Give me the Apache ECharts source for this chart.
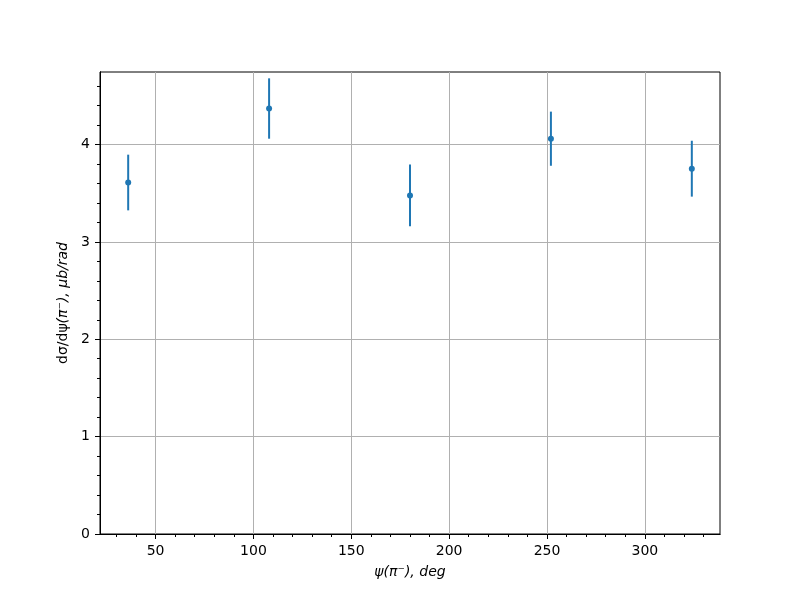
<!DOCTYPE html>
<html>
<head>
<meta charset="utf-8">
<script src="https://cdn.jsdelivr.net/npm/echarts@6/dist/echarts.min.js"></script>
<style>html,body{margin:0;padding:0;background:#fff}#c{width:800px;height:600px}</style>
</head>
<body>
<div id="c"></div>
<script>
var psiDeg = [36, 108, 180, 252, 324];
var dsigma = [3.61, 4.37, 3.477, 4.06, 3.752];
var dsigmaErr = [0.286, 0.31, 0.317, 0.278, 0.287];
var xMajorTicks = [50, 100, 150, 200, 250, 300];
var xMinorTicks = [30, 40, 60, 70, 80, 90, 110, 120, 130, 140, 160, 170, 180, 190, 210, 220, 230, 240, 260, 270, 280, 290, 310, 320, 330];
var yMajorTicks = [0, 1, 2, 3, 4];
var yMinorTicks = [0.2, 0.4, 0.6, 0.8, 1.2, 1.4, 1.6, 1.8, 2.2, 2.4, 2.6, 2.8, 3.2, 3.4, 3.6, 3.8, 4.2, 4.4, 4.6];
var xRange = [21.6, 338.4];
var yRange = [0, 4.745];

var points = psiDeg.map(function (x, i) { return [x, dsigma[i]]; });
var bars = psiDeg.map(function (x, i) { return [x, dsigma[i] - dsigmaErr[i], dsigma[i] + dsigmaErr[i]]; });

var font = 'DejaVu Sans';
var color = '#1f77b4';

function xAxisBase(extra) {
  var a = {
    type: 'value', min: xRange[0], max: xRange[1], position: 'bottom',
    axisLine: { show: true, onZero: false, lineStyle: { color: '#000', width: 1 } },
    splitLine: { show: false },
    axisLabel: { show: false },
    axisTick: { show: false }
  };
  for (var k in extra) a[k] = extra[k];
  return a;
}
function yAxisBase(extra) {
  var a = {
    type: 'value', min: yRange[0], max: yRange[1], position: 'left',
    axisLine: { show: true, onZero: false, lineStyle: { color: '#000', width: 1 } },
    splitLine: { show: false },
    axisLabel: { show: false },
    axisTick: { show: false }
  };
  for (var k in extra) a[k] = extra[k];
  return a;
}

var chart = echarts.init(document.getElementById('c'), null, { renderer: 'canvas' });
chart.setOption({
  backgroundColor: '#fff',
  animation: false,
  grid: { left: 100, right: 80, top: 72, bottom: 66, show: true, borderColor: '#000', borderWidth: 1, backgroundColor: 'transparent' },
  xAxis: [
    xAxisBase({
      name: 'ψ(π⁻), deg', nameLocation: 'middle', nameGap: 31,
      nameTextStyle: { fontFamily: font, fontSize: 14, fontStyle: 'italic', color: '#000' },
      axisTick: { show: true, inside: false, length: 5, customValues: xMajorTicks, lineStyle: { color: '#000', width: 1 } },
      axisLabel: { show: true, margin: 10, customValues: xMajorTicks, fontFamily: font, fontSize: 14, color: '#000' },
      splitLine: { show: true, lineStyle: { color: '#b0b0b0', width: 1 } }
    }),
    xAxisBase({
      axisTick: { show: true, inside: false, length: 3, customValues: xMinorTicks, lineStyle: { color: '#000', width: 1 } }
    })
  ],
  yAxis: [
    yAxisBase({
      name: '{u|dσ/dψ}{i|(π⁻), μb/rad}', nameLocation: 'middle', nameGap: 27, nameRotate: 90,
      nameTextStyle: { fontFamily: font, fontSize: 14, color: '#000',
        rich: { u: { fontFamily: font, fontSize: 14, color: '#000' }, i: { fontFamily: font, fontSize: 14, fontStyle: 'italic', color: '#000' } } },
      axisTick: { show: true, inside: false, length: 5, customValues: yMajorTicks, lineStyle: { color: '#000', width: 1 } },
      axisLabel: { show: true, margin: 10, customValues: yMajorTicks, fontFamily: font, fontSize: 14, color: '#000' },
      splitLine: { show: true, lineStyle: { color: '#b0b0b0', width: 1 } }
    }),
    yAxisBase({
      axisTick: { show: true, inside: false, length: 3, customValues: yMinorTicks, lineStyle: { color: '#000', width: 1 } }
    })
  ],
  series: [
    {
      type: 'custom', xAxisIndex: 0, yAxisIndex: 0, data: bars, z: 3,
      renderItem: function (params, api) {
        var lo = api.coord([api.value(0), api.value(1)]);
        var hi = api.coord([api.value(0), api.value(2)]);
        return {
          type: 'line',
          shape: { x1: lo[0], y1: lo[1], x2: hi[0], y2: hi[1] },
          style: { stroke: color, lineWidth: 2 }
        };
      }
    },
    {
      type: 'scatter', xAxisIndex: 0, yAxisIndex: 0, data: points, z: 4,
      symbol: 'circle', symbolSize: 6,
      itemStyle: { color: color, opacity: 1 }
    }
  ]
});
</script>
</body>
</html>
